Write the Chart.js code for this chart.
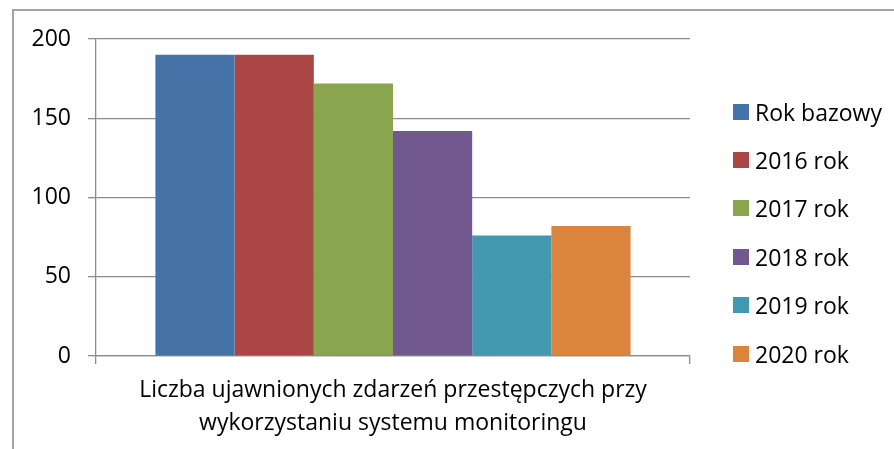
<!DOCTYPE html>
<html>
<head>
<meta charset="utf-8">
<script src="https://cdn.jsdelivr.net/npm/chart.js@4.4.1/dist/chart.umd.min.js"></script>
<style>
  html, body { margin: 0; padding: 0; background: #fff; overflow: hidden; }
  #wrap { position: relative; width: 894px; height: 449px; font-family: 'Open Sans', sans-serif; }
  #frame { position: absolute; left: 12px; top: 9px; width: 900px; height: 460px; border: 2px solid #a3a3a3; box-sizing: border-box; }
  #chart { position: absolute; left: 0; top: 0; }
  #legend { position: absolute; left: 733px; top: 0; }
  .item { position: absolute; left: 0; height: 30px; display: flex; align-items: center; white-space: nowrap; font-size: 23px; color: #000; }
  .swatch { width: 16px; height: 16px; margin-right: 6px; }
</style>
</head>
<body>
<div id="wrap">
  <div id="frame"></div>
  <canvas id="chart" width="894" height="449"></canvas>
  <div id="legend"></div>
</div>
<script>
// Data
const categories = [['Liczba ujawnionych zdarzeń przestępczych przy', 'wykorzystaniu systemu monitoringu']];
const seriesNames = ['Rok bazowy', '2016 rok', '2017 rok', '2018 rok', '2019 rok', '2020 rok'];
const seriesValues = [[190], [190], [172], [142], [76], [82]];
const seriesColors = ['#4572a7', '#aa4643', '#89a54e', '#71588f', '#4198af', '#db843d'];
const yTicks = [0, 50, 100, 150, 200];

const gridColor = '#8c8c8c';

const datasets = seriesNames.map((name, i) => ({
    label: name,
    data: seriesValues[i],
    backgroundColor: seriesColors[i],
    borderWidth: 0,
    categoryPercentage: 0.8,
    barPercentage: 1.0
}));

new Chart(document.getElementById('chart').getContext('2d'), {
    type: 'bar',
    data: { labels: categories, datasets: datasets },
    options: {
        responsive: false,
        animation: false,
        layout: { padding: { left: 0, right: 204, top: 39, bottom: 0 } },
        plugins: { legend: { display: false }, tooltip: { enabled: false } },
        scales: {
            x: {
                offset: true,
                grid: { display: true, drawOnChartArea: false, offset: true, tickLength: 8, color: gridColor, lineWidth: 1.3 },
                border: { display: true, color: gridColor, width: 1.3 },
                ticks: { color: '#000', padding: 10, font: { family: 'Open Sans', size: 23, lineHeight: 1.43 }, maxRotation: 0 },
                afterFit: s => { s.height = 93; }
            },
            y: {
                min: 0,
                max: 200,
                afterBuildTicks: s => { s.ticks = yTicks.map(v => ({ value: v })); },
                grid: { color: gridColor, lineWidth: 1.3, tickLength: 8 },
                border: { display: true, color: gridColor, width: 1.3 },
                ticks: { color: '#000', padding: 17, font: { family: 'Open Sans', size: 23 } },
                afterFit: s => { s.width = 96; }
            }
        }
    }
});

// Legend
const legendDiv = document.getElementById('legend');
const rowCenters = [112, 160, 208, 257, 305, 354];
seriesNames.forEach((name, i) => {
    const item = document.createElement('div');
    item.className = 'item';
    item.style.top = (rowCenters[i] - 15) + 'px';
    item.innerHTML = `<span class="swatch" style="background:${seriesColors[i]}"></span><span>${name}</span>`;
    legendDiv.appendChild(item);
});
</script>
</body>
</html>
